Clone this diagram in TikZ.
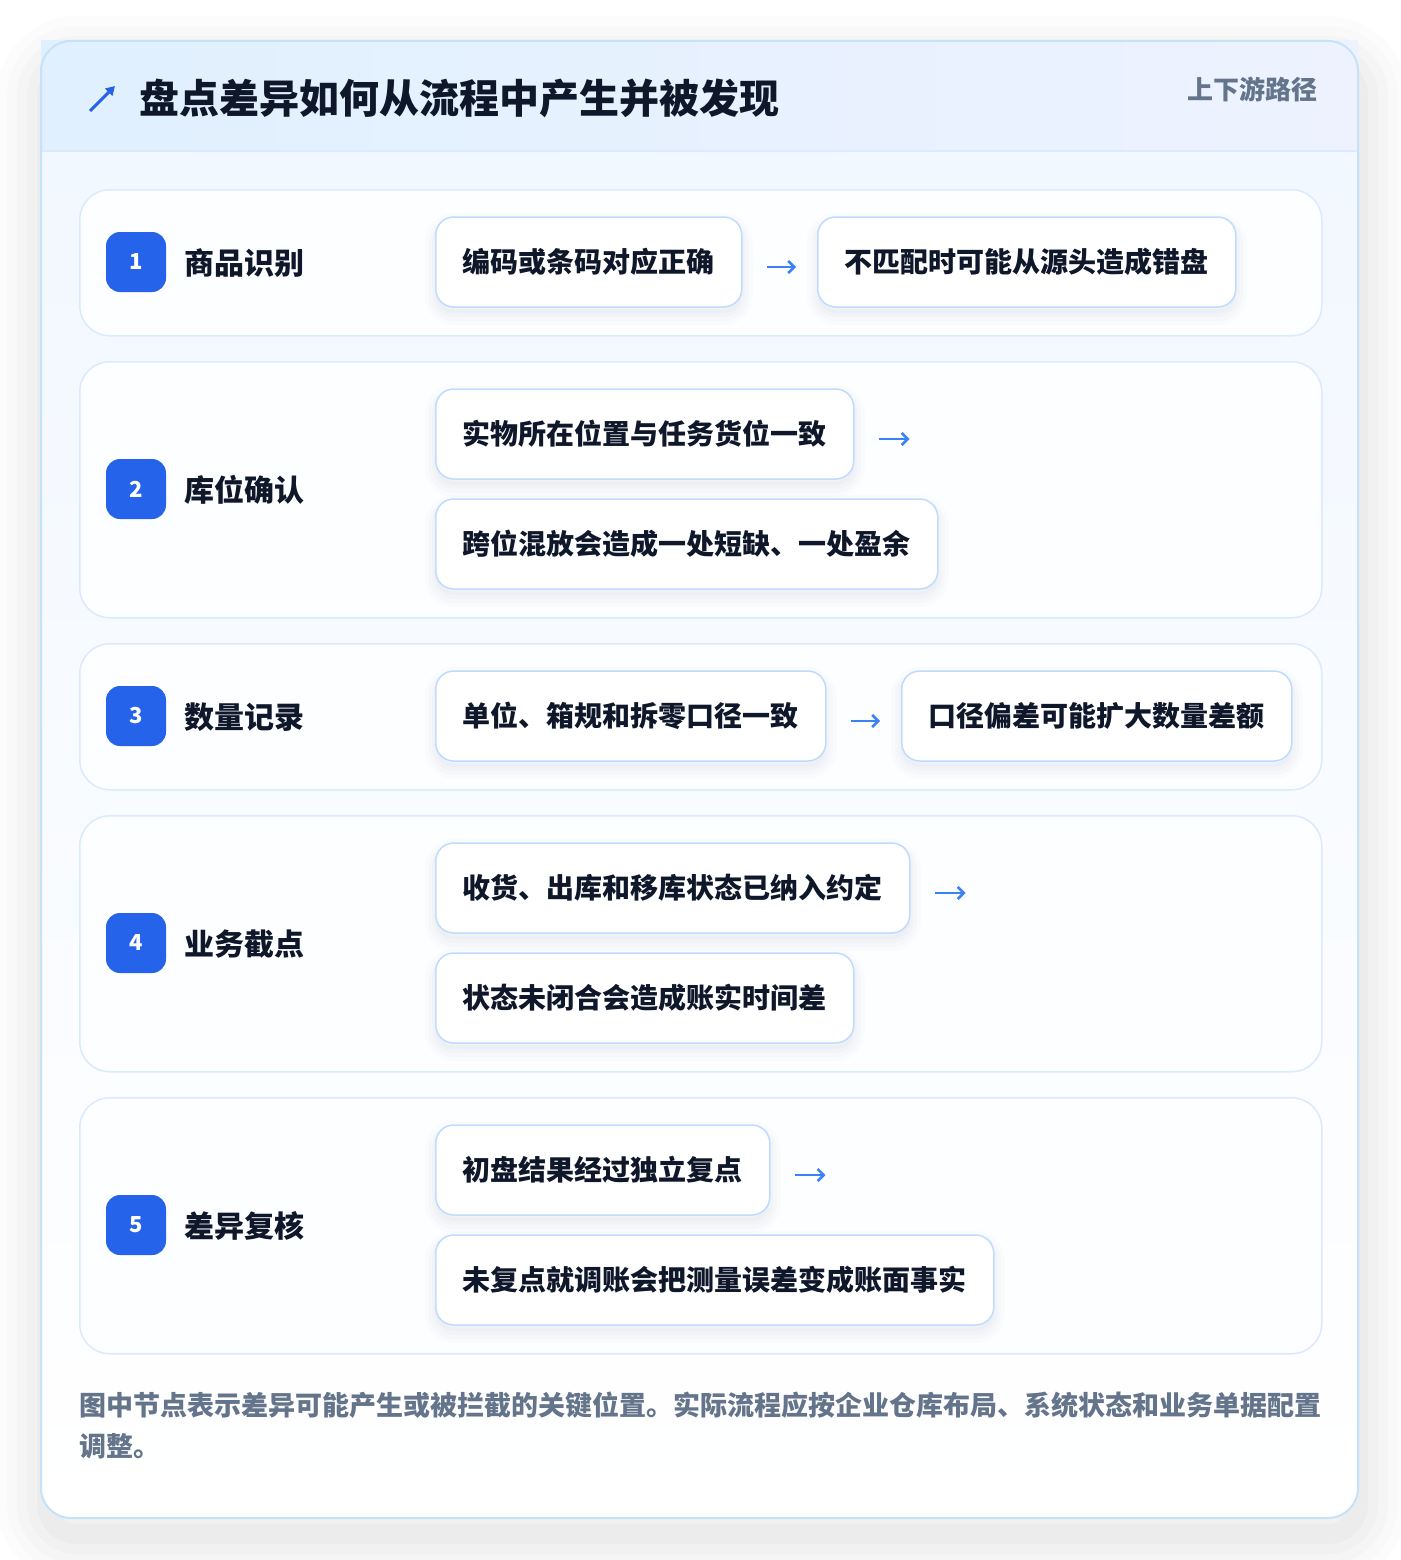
\documentclass[tikz,border=0pt]{standalone}
\usepackage{fontspec}
\setmainfont{Noto Sans CJK SC}[BoldFont={Noto Sans CJK SC Black}]
\usetikzlibrary{arrows.meta}
\definecolor{ink}{HTML}{0F172A}
\definecolor{muted}{HTML}{64748B}
\definecolor{badgeblue}{HTML}{2563EB}
\definecolor{arrowblue}{HTML}{3B82F6}
\definecolor{boxline}{HTML}{BFDBFE}
\definecolor{rowline}{HTML}{DBEAFE}
\definecolor{cardline}{HTML}{C4E2F8}
\definecolor{hdrL}{HTML}{E0F0FE}
\definecolor{hdrR}{HTML}{EEF2FF}
\definecolor{bodytop}{HTML}{F1F7FF}
\definecolor{rowfill}{HTML}{FDFEFF}
\definecolor{shade}{HTML}{1E3A5F}
\definecolor{cardshade}{HTML}{20242C}
\tikzset{
  rowcard/.style={draw=rowline, line width=1.5pt, fill=rowfill, rounded corners=30pt, anchor=north west, inner sep=0pt},
  badge/.style={fill=badgeblue, rounded corners=14pt, minimum size=60pt, inner sep=0pt, text=white, font=\fontsize{22pt}{26pt}\selectfont\bfseries},
  lbl/.style={anchor=west, inner sep=0pt, text=ink, font=\fontsize{30pt}{34pt}\selectfont\bfseries},
  softshadow/.style={
    preaction={draw=shade, draw opacity=0.012, line width=22pt, transform canvas={yshift=-7pt}},
    preaction={draw=shade, draw opacity=0.015, line width=14pt, transform canvas={yshift=-7pt}},
    preaction={draw=shade, draw opacity=0.02, line width=7pt, transform canvas={yshift=-6pt}},
    preaction={fill=shade, fill opacity=0.02, transform canvas={yshift=-6pt}}},
  stepbox/.style={anchor=west, draw=boxline, line width=1.5pt, fill=white, rounded corners=18pt, minimum height=90pt, inner xsep=27pt, inner ysep=0pt, text=ink, font=\fontsize{28pt}{34pt}\selectfont\bfseries, softshadow},
  flowarrow/.style={draw=arrowblue, line width=2.8pt, -{Straight Barb[length=6pt,width=12pt,line width=2.6pt]}},
  foot/.style={anchor=west, inner sep=0pt, text=muted, font=\fontsize{27pt}{32pt}\selectfont\bfseries},
}
\begin{document}
\begin{tikzpicture}[x=1pt,y=-1pt]
\useasboundingbox (0,0) rectangle (1400,1560);
\fill[white] (0,0) rectangle (1400,1560);
% card shadow
\foreach \w/\o in {100/0.010, 80/0.012, 60/0.014, 40/0.016, 20/0.018}{
  \draw[cardshade, draw opacity=\o, line width=\w pt, rounded corners=30pt] (47,66) rectangle (1358,1534);
}
% card body
\path[rounded corners=30pt, top color=bodytop, bottom color=white] (41,41) rectangle (1358,1518);
% header band
\fill[left color=hdrL, right color=hdrR] (41,41) rectangle (1358,151);
\draw[rowline, line width=1.5pt] (42,151) -- (1357,151);
\draw[cardline, line width=2pt, rounded corners=30pt] (41,41) rectangle (1358,1518);
% title
\draw[badgeblue, line width=3pt, -{Triangle[length=9pt,width=10pt]}] (90,111) -- (115,86);
\node[anchor=west, inner sep=0pt, text=ink, font=\fontsize{40pt}{44pt}\selectfont\bfseries] (title) at (139,98) {盘点差异如何从流程中产生并被发现};
\node[anchor=east, inner sep=0pt, text=muted, font=\fontsize{26pt}{30pt}\selectfont\bfseries] (tag) at (1318,89) {上下游路径};
% rows
\node[rowcard, minimum width=1242pt, minimum height=146pt] (r1) at (79,189) {};
\node[rowcard, minimum width=1242pt, minimum height=256pt] (r2) at (79,361) {};
\node[rowcard, minimum width=1242pt, minimum height=146pt] (r3) at (79,643) {};
\node[rowcard, minimum width=1242pt, minimum height=256pt] (r4) at (79,815) {};
\node[rowcard, minimum width=1242pt, minimum height=256pt] (r5) at (79,1097) {};
% row 1
\node[badge] (n1) at (136,262) {1};
\node[lbl] (l1) at (184,263) {商品识别};
\node[stepbox] (b11) at (435,262) {编码或条码对应正确};
\node[stepbox] (b12) at (817,262) {不匹配时可能从源头造成错盘};
\draw[flowarrow, shorten <=24pt, shorten >=21pt] ([yshift=-5pt]b11.east) -- ([yshift=-5pt]b12.west);
% row 2
\node[badge] (n2) at (136,489) {2};
\node[lbl] (l2) at (184,490) {库位确认};
\node[stepbox] (b21) at (435,434) {实物所在位置与任务货位一致};
\node[stepbox] (b22) at (435,544) {跨位混放会造成一处短缺、一处盈余};
% row 3
\node[badge] (n3) at (136,716) {3};
\node[lbl] (l3) at (184,717) {数量记录};
\node[stepbox] (b31) at (435,716) {单位、箱规和拆零口径一致};
\node[stepbox] (b32) at (901,716) {口径偏差可能扩大数量差额};
\draw[flowarrow, shorten <=24pt, shorten >=21pt] ([yshift=-5pt]b31.east) -- ([yshift=-5pt]b32.west);
% row 4
\node[badge] (n4) at (136,943) {4};
\node[lbl] (l4) at (184,944) {业务截点};
\node[stepbox] (b41) at (435,888) {收货、出库和移库状态已纳入约定};
\node[stepbox] (b42) at (435,998) {状态未闭合会造成账实时间差};
% row 5
\node[badge] (n5) at (136,1225) {5};
\node[lbl] (l5) at (184,1226) {差异复核};
\node[stepbox] (b51) at (435,1170) {初盘结果经过独立复点};
\node[stepbox] (b52) at (435,1280) {未复点就调账会把测量误差变成账面事实};
% dangling arrows
\path (b21.east) ++(24,5) coordinate (s2) ++(31,0) coordinate (t2);
\draw[flowarrow] (s2) -- (t2);
\path (b41.east) ++(24,5) coordinate (s4) ++(31,0) coordinate (t4);
\draw[flowarrow] (s4) -- (t4);
\path (b51.east) ++(24,5) coordinate (s5) ++(31,0) coordinate (t5);
\draw[flowarrow] (s5) -- (t5);
% footer
\node[foot] (f1) at (79,1405) {图中节点表示差异可能产生或被拦截的关键位置。实际流程应按企业仓库布局、系统状态和业务单据配置};
\node[foot] (f2) at (79,1446) {调整。};
\end{tikzpicture}
\end{document}
